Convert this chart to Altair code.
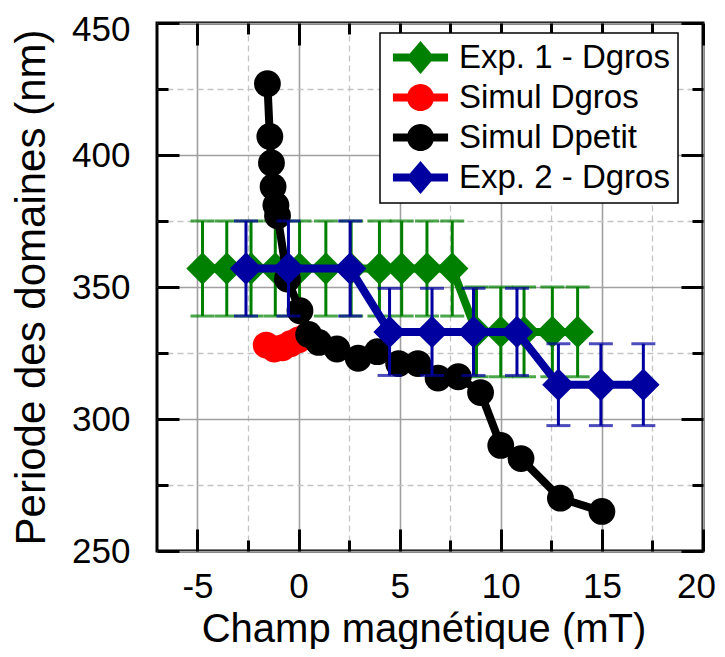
import altair as alt
import pandas as pd

# ---------------- data ----------------
exp1_x = [-4.75, -3.55, -2.35, -1.15, 0.05, 1.35, 2.6, 4.0, 5.1, 6.35, 7.6, 8.8, 10.0, 11.15, 12.55, 13.8]
exp1_y = [357, 357, 357, 357, 357, 357, 357, 357, 357, 357, 357, 333, 333, 333, 333, 333]
exp1_err = [18, 18, 18, 18, 18, 18, 18, 18, 18, 18, 18, 17, 17, 17, 17, 17]

exp2_x = [-2.6, -0.5, 2.55, 4.5, 6.6, 8.65, 10.8, 12.85, 14.95, 17.05]
exp2_y = [357, 357, 357, 333, 333, 333, 333, 313, 313, 313]
exp2_err = [18, 18, 18, 16.5, 16.5, 16.5, 16.5, 15.5, 15.5, 15.5]

simg_x = [-1.6, -1.2, -0.8, -0.4, 0.0, 0.4]
simg_y = [328, 326.5, 327, 328.5, 330, 331.5]

simp_x = [-1.54, -1.42, -1.34, -1.26, -1.12, -1.04, -0.55, 0.07, 0.5, 1.0, 1.9, 2.95,
          3.9, 4.95, 5.9, 6.9, 7.9, 9.0, 10.0, 11.0, 12.95, 15.0]
simp_y = [427, 407, 397, 388, 381, 377, 353, 341, 332, 329, 326.5, 323,
          325.5, 321, 321, 315.5, 316, 310, 290, 285, 270, 265]

names = ["Exp. 1 - Dgros", "Simul Dgros", "Simul Dpetit", "Exp. 2 - Dgros"]
colors = ["#008000", "#FF0000", "#000000", "#0000A0"]

x_major = [-5, 0, 5, 10, 15, 20]
x_minor = [-2.5, 2.5, 7.5, 12.5, 17.5]
y_major = [250, 300, 350, 400, 450]
y_minor = [275, 325, 375, 425]

# ---------------- styling ----------------
FONT = "Liberation Sans"
W, H = 546, 528
xs = alt.Scale(domain=[-7, 20], nice=False, zero=False)
ys = alt.Scale(domain=[250, 450], nice=False, zero=False)

# legend symbols: marker with a line through it
diamond_line = ("M-1.67,-0.24L-0.646,-0.24L0,-1L0.646,-0.24L1.67,-0.24L1.67,0.24"
                "L0.646,0.24L0,1L-0.646,0.24L-1.67,0.24Z")
circle_line = ("M-1.67,-0.24L-0.784,-0.24A0.82,0.82,0,0,1,0.784,-0.24L1.67,-0.24"
               "L1.67,0.24L0.784,0.24A0.82,0.82,0,0,1,-0.784,0.24L-1.67,0.24Z")
shapes = [diamond_line, circle_line, circle_line, diamond_line]


def frame(x, y, err=None):
    d = pd.DataFrame({"x": x, "y": y, "i": list(range(len(x)))})
    if err is not None:
        d["lo"] = [a - b for a, b in zip(y, err)]
        d["hi"] = [a + b for a, b in zip(y, err)]
    return d


df_e1 = frame(exp1_x, exp1_y, exp1_err)
df_e2 = frame(exp2_x, exp2_y, exp2_err)
df_sg = frame(simg_x, simg_y)
df_sp = frame(simp_x, simp_y)

NOAX_X = alt.X("x:Q", scale=xs, axis=None)


def errbars(df, c):
    rule = alt.Chart(df).mark_rule(color=c, strokeWidth=3).encode(
        x=NOAX_X,
        y=alt.Y("lo:Q", scale=ys, axis=None),
        y2="hi:Q",
    )
    cap_lo = alt.Chart(df).mark_tick(color=c, orient="horizontal", size=24, thickness=3).encode(
        x=NOAX_X, y=alt.Y("lo:Q", scale=ys, axis=None))
    cap_hi = alt.Chart(df).mark_tick(color=c, orient="horizontal", size=24, thickness=3).encode(
        x=NOAX_X, y=alt.Y("hi:Q", scale=ys, axis=None))
    return [rule, cap_lo, cap_hi]


def series(df, c, shape, size):
    line = alt.Chart(df).mark_line(color=c, strokeWidth=8).encode(
        x=NOAX_X, y=alt.Y("y:Q", scale=ys, axis=None), order="i:Q")
    pts = alt.Chart(df).mark_point(color=c, shape=shape, filled=True, size=size,
                                   opacity=1, strokeWidth=0).encode(
        x=NOAX_X, y=alt.Y("y:Q", scale=ys, axis=None))
    return [line, pts]


# ---------------- axes (grid, labels, inward ticks) ----------------
empty = alt.Chart(df_sp).transform_filter("false").mark_point()


def axis_layer(xaxis, yaxis):
    return empty.encode(x=alt.X("x:Q", scale=xs, axis=xaxis),
                        y=alt.Y("y:Q", scale=ys, axis=yaxis))


main_x = alt.Axis(values=x_major, title="Champ magnétique (mT)", labelExpr="'' + datum.value",
                  labelFont=FONT, labelFontSize=35, labelColor="black", labelPadding=18,
                  labelFlush=False, labelOverlap=False,
                  labelOffset={"condition": {"test": "datum.value === 20", "value": -7}, "value": 0},
                  titleFont=FONT, titleFontSize=40, titleFontWeight="normal", titleColor="black",
                  titleX=266.5, titleY=58,
                  ticks=False, domain=False, grid=True, gridColor="#a0a0a0", gridWidth=1.6)
main_y = alt.Axis(values=y_major, title="Periode des domaines (nm)",
                  labelFont=FONT, labelFontSize=35, labelColor="black", labelPadding=27,
                  labelOverlap=False, labelFlush=False,
                  labelOffset={"condition": {"test": "datum.value === 450", "value": 6}, "value": 0},
                  titleFont=FONT, titleFontSize=42, titleFontWeight="normal", titleColor="black",
                  titlePadding=18,
                  ticks=False, domain=False, grid=True, gridColor="#a0a0a0", gridWidth=1.6)
dash_x = alt.Axis(values=x_minor, title=None, labels=False, ticks=False, domain=False, grid=True,
                  gridColor="#c4c4c4", gridWidth=1.3, gridDash=[6, 4])
dash_y = alt.Axis(values=y_minor, title=None, labels=False, ticks=False, domain=False, grid=True,
                  gridColor="#c4c4c4", gridWidth=1.3, gridDash=[6, 4])


def tick_axis(orient, offset, vals, size):
    return alt.Axis(orient=orient, offset=offset, values=vals, tickSize=size, tickWidth=3,
                    tickColor="black", labels=False, domain=False, grid=False, title=None)


axis_layers = [
    axis_layer(main_x, main_y),
    axis_layer(dash_x, dash_y),
    axis_layer(tick_axis("top", -H, x_major, 22), tick_axis("right", -W, y_major, 22)),
    axis_layer(tick_axis("top", -H, x_minor, 11), tick_axis("right", -W, y_minor, 11)),
    axis_layer(tick_axis("bottom", -H, x_major, 22), tick_axis("left", -W, y_major, 22)),
    axis_layer(tick_axis("bottom", -H, x_minor, 11), tick_axis("left", -W, y_minor, 11)),
]

# ---------------- legend ----------------
leg = alt.Legend(title=None, orient="none", legendX=223, legendY=10,
                 symbolSize=1089, symbolOffset=16, labelOffset=22, labelLimit=400,
                 labelFont=FONT, labelFontSize=33, labelColor="black",
                 rowPadding=6, padding=8, symbolStrokeWidth=0, symbolOpacity=1,
                 fillColor="white", strokeColor="black")
leg_df = pd.DataFrame({"series": names, "x": [0] * 4, "y": [300] * 4})
legend_layer = alt.Chart(leg_df).transform_filter("false").mark_point(
    filled=True, opacity=1, strokeWidth=0).encode(
    x=NOAX_X, y=alt.Y("y:Q", scale=ys, axis=None),
    color=alt.Color("series:N", scale=alt.Scale(domain=names, range=colors), legend=leg),
    shape=alt.Shape("series:N", scale=alt.Scale(domain=names, range=shapes), legend=leg),
)

layers = (axis_layers
          + errbars(df_e1, colors[0])
          + series(df_e1, colors[0], "diamond", 1050)
          + series(df_sg, colors[1], "circle", 720)
          + series(df_sp, colors[2], "circle", 720)
          + errbars(df_e2, colors[3])
          + series(df_e2, colors[3], "diamond", 1050)
          + [legend_layer])

chart = alt.layer(*layers).resolve_axis(x="independent", y="independent").properties(
    width=W, height=H,
    autosize=alt.AutoSizeParams(type="none"),
    padding={"left": 149, "top": 15, "right": 14, "bottom": 98},
    background="white",
).configure(font=FONT).configure_view(stroke="black", strokeWidth=3).configure_legend(
    strokeWidth=1.5
)

chart.save("out.html", embed_options={"renderer": "svg", "actions": False})
